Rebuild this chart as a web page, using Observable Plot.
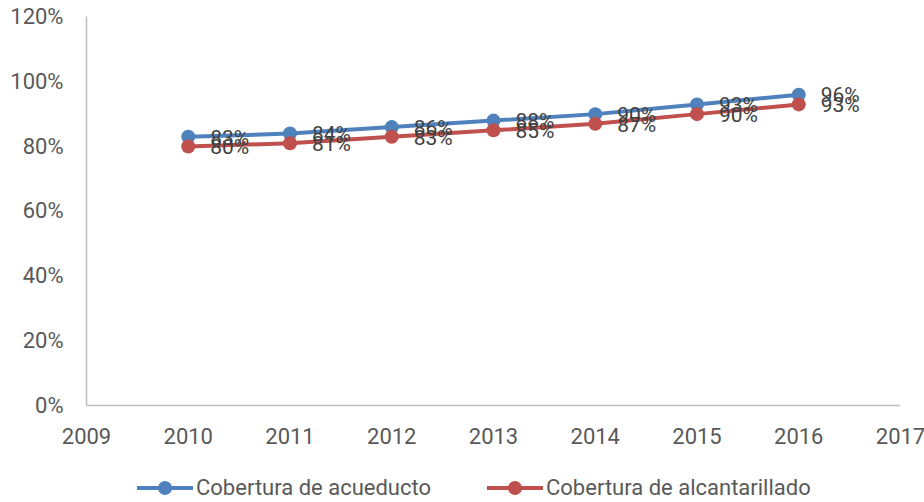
<!DOCTYPE html>
<html>
<head>
<meta charset="utf-8">
<script src="https://cdn.jsdelivr.net/npm/d3@7"></script>
<script src="https://cdn.jsdelivr.net/npm/@observablehq/plot@0.6"></script>
<style>
  html, body { margin: 0; padding: 0; background: #fff; }
  #wrap { position: relative; width: 924px; height: 502px; font-family: Roboto, "Liberation Sans", sans-serif; }
  #legend { position: absolute; left: 0; top: 470px; width: 924px; height: 36px; }
  .item { position: absolute; top: 0; height: 36px; display: flex; align-items: center; }
  .lab { position: absolute; top: 0; height: 36px; line-height: 36px; font-size: 22px; color: #595959; white-space: nowrap; }
</style>
</head>
<body>
<div id="wrap">
  <div id="chart"></div>
  <div id="legend"></div>
</div>
<script>
const years = [2010, 2011, 2012, 2013, 2014, 2015, 2016];
const acueducto = [0.83, 0.84, 0.86, 0.88, 0.90, 0.93, 0.96];
const alcantarillado = [0.80, 0.81, 0.83, 0.85, 0.87, 0.90, 0.93];
const seriesNames = ["Cobertura de acueducto", "Cobertura de alcantarillado"];
const seriesColors = ["#4F81BD", "#C0504D"];
const xTicks = [2009, 2010, 2011, 2012, 2013, 2014, 2015, 2016, 2017];
const yTicks = [0, 0.2, 0.4, 0.6, 0.8, 1.0, 1.2];

const rows = [];
years.forEach((yr, i) => rows.push({year: yr, value: acueducto[i], serie: seriesNames[0]}));
years.forEach((yr, i) => rows.push({year: yr, value: alcantarillado[i], serie: seriesNames[1]}));

const fmt = d3.format(".0%");

const chart = Plot.plot({
  width: 924,
  height: 470,
  marginLeft: 86,
  marginRight: 24,
  marginTop: 16.5,
  marginBottom: 65,
  style: { fontFamily: "Roboto, 'Liberation Sans', sans-serif", background: "#fff", overflow: "visible" },
  x: { domain: [2009, 2017], ticks: xTicks, tickFormat: d => String(d), label: null },
  y: { domain: [0, 1.2], ticks: yTicks, tickFormat: fmt, label: null },
  color: { domain: seriesNames, range: seriesColors },
  marks: [
    Plot.ruleX([2009], { stroke: "#BFBFBF", strokeWidth: 1.5 }),
    Plot.ruleY([0], { stroke: "#BFBFBF", strokeWidth: 1.5 }),
    Plot.axisX({ ticks: xTicks, tickSize: 0, tickPadding: 23, fontSize: 22, fill: "#595959", tickFormat: d => String(d), label: null }),
    Plot.axisY({ ticks: yTicks, tickSize: 0, tickPadding: 23, fontSize: 22, fill: "#595959", tickFormat: fmt, label: null }),
    Plot.line(rows, { x: "year", y: "value", z: "serie", stroke: "serie", strokeWidth: 4 }),
    Plot.dot(rows, { x: "year", y: "value", fill: "serie", r: 7 }),
    Plot.text(rows, { x: "year", y: "value", text: d => fmt(d.value), dx: 22, dy: 1, textAnchor: "start", fontSize: 21, fill: "#404040" })
  ]
});
document.getElementById("chart").appendChild(chart);

// Legend
const legend = document.getElementById("legend");
const legendPos = [{sw: 137, tx: 196}, {sw: 487, tx: 546}];
seriesNames.forEach((name, i) => {
  const item = document.createElement("div");
  item.className = "item";
  item.style.left = legendPos[i].sw + "px";
  item.innerHTML = `<svg width="56" height="36"><line x1="0" y1="18" x2="56" y2="18" stroke="${seriesColors[i]}" stroke-width="4"/><circle cx="28" cy="18" r="7" fill="${seriesColors[i]}"/></svg>`;
  legend.appendChild(item);
  const lab = document.createElement("div");
  lab.className = "lab";
  lab.style.left = legendPos[i].tx + "px";
  lab.textContent = name;
  legend.appendChild(lab);
});
</script>
</body>
</html>
